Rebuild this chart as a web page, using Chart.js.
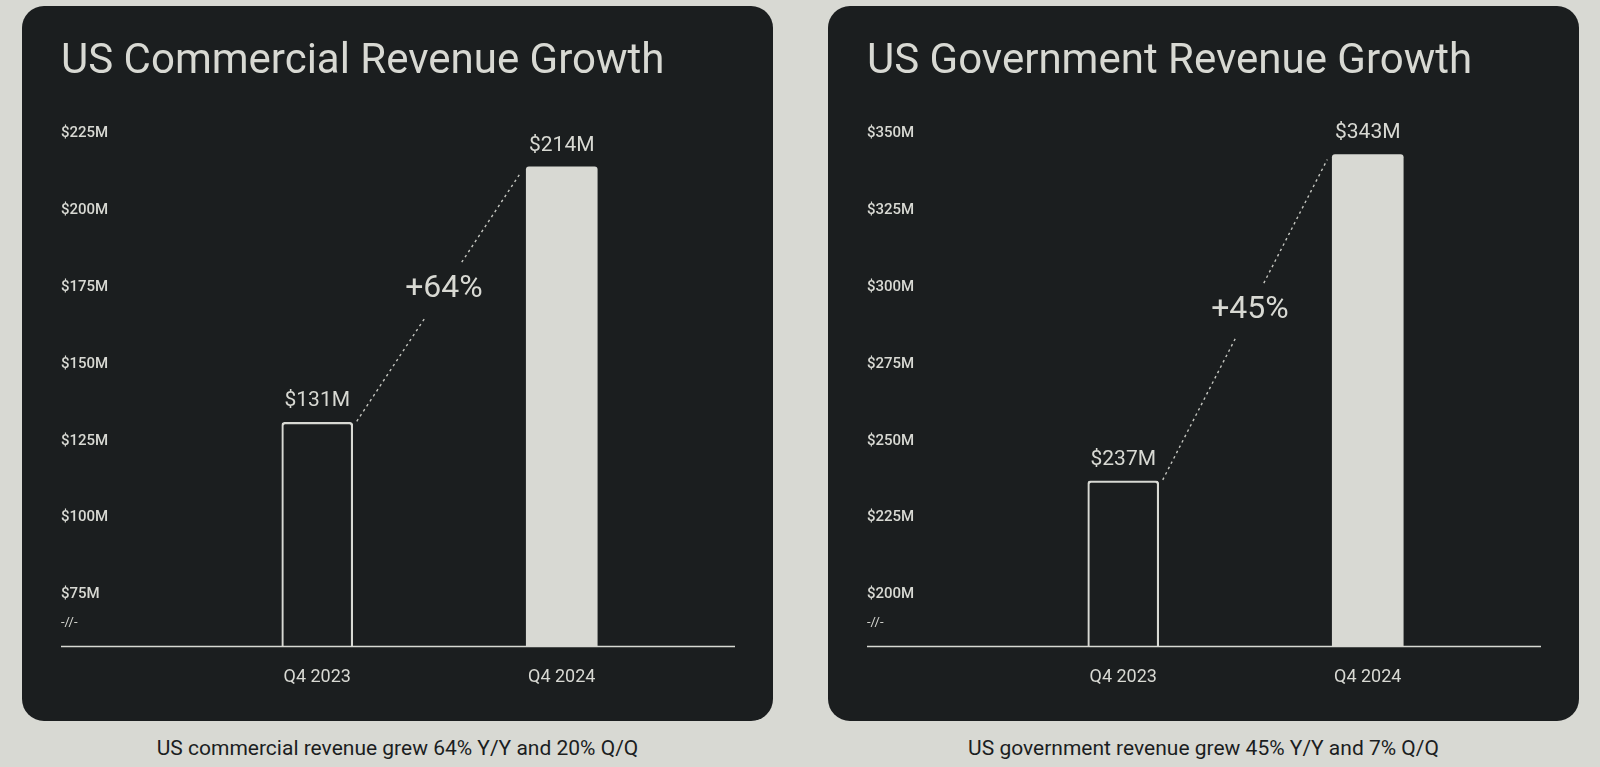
<!DOCTYPE html>
<html>
<head>
<meta charset="utf-8">
<script src="https://cdn.jsdelivr.net/npm/chart.js@4.4.1/dist/chart.umd.min.js"></script>
<style>
  html, body { margin:0; padding:0; width:1600px; height:767px; overflow:hidden; background:#d8d9d3; font-family: Roboto, 'Liberation Sans', sans-serif; }
  .panel { position:absolute; top:6px; width:751px; height:715px; background:#1b1e1f; border-radius:22px; overflow:hidden; }
  .panel canvas { display:block; }
  .caption { position:absolute; top:736px; width:751px; text-align:center; font-size:21px; line-height:24px; color:#1b1e1f; }
</style>
</head>
<body>
<div class="panel" style="left:22px"><canvas id="chartCommercial" width="751" height="715"></canvas></div>
<div class="panel" style="left:828px"><canvas id="chartGovernment" width="751" height="715"></canvas></div>
<div class="caption" style="left:22px">US commercial revenue grew 64% Y/Y and 20% Q/Q</div>
<div class="caption" style="left:828px">US government revenue grew 45% Y/Y and 7% Q/Q</div>
<script>
// ---- data ----
const categories = ['Q4 2023', 'Q4 2024'];
const commercialValues = [131, 214];
const governmentValues = [237, 343];
const commercialTicks = [75, 100, 125, 150, 175, 200, 225];
const governmentTicks = [200, 225, 250, 275, 300, 325, 350];
const commercialGrowth = '+64%';
const governmentGrowth = '+45%';
const commercialTitle = 'US Commercial Revenue Growth';
const governmentTitle = 'US Government Revenue Growth';

// ---- styling ----
const LIGHT = '#d8d9d3';
const FONT = "Roboto, 'Liberation Sans', sans-serif";

const annotate = {
  id: 'annotate',
  afterDatasetsDraw(chart, args, opts) {
    const ctx = chart.ctx;
    const area = chart.chartArea;
    const yScale = chart.scales.y;
    const meta = chart.getDatasetMeta(0);
    const values = chart.data.datasets[0].data;
    const b0 = meta.data[0], b1 = meta.data[1];
    ctx.save();
    // baseline spanning the whole plot including label column
    ctx.strokeStyle = LIGHT;
    ctx.lineWidth = 1.5;
    ctx.beginPath();
    ctx.moveTo(yScale.left, area.bottom);
    ctx.lineTo(chart.width - 38, area.bottom);
    ctx.stroke();

    // value labels
    ctx.fillStyle = LIGHT;
    ctx.textAlign = 'center';
    ctx.textBaseline = 'middle';
    ctx.font = '400 21px ' + FONT;
    meta.data.forEach((bar, i) => {
      ctx.fillText('$' + values[i] + 'M', bar.x, bar.y - 21.5);
    });

    // dashed growth connector
    const p0 = { x: b0.x + b0.width / 2 + 4, y: b0.y - 1 };
    const p1 = { x: b1.x - b1.width / 2 - 5, y: b1.y + 5 };
    const t = 0.53;
    const c = { x: p0.x + t * (p1.x - p0.x), y: p0.y + t * (p1.y - p0.y) };
    const g = 27 / (p0.y - p1.y);
    const at = (s) => ({ x: p0.x + s * (p1.x - p0.x), y: p0.y + s * (p1.y - p0.y) });
    const a1 = at(t - g), a2 = at(t + g);
    ctx.strokeStyle = 'rgba(216,217,211,0.9)';
    ctx.lineWidth = 1.4;
    ctx.setLineDash([2.5, 3.5]);
    ctx.beginPath();
    ctx.moveTo(p0.x, p0.y); ctx.lineTo(a1.x, a1.y);
    ctx.moveTo(a2.x, a2.y); ctx.lineTo(p1.x, p1.y);
    ctx.stroke();
    ctx.setLineDash([]);
    ctx.font = '400 32px ' + FONT;
    ctx.fillText(opts.growth, c.x, c.y);

    // axis break symbol
    ctx.font = '400 13px ' + FONT;
    ctx.textAlign = 'left';
    const firstTickY = yScale.getPixelForValue(opts.ticks[0]);
    ctx.fillText('-//-', yScale.left, (area.bottom + firstTickY) / 2 + 2);
    ctx.restore();
  }
};

function buildChart(id, title, values, ticks, growth) {
  const step = ticks[1] - ticks[0];
  return new Chart(document.getElementById(id), {
    type: 'bar',
    data: {
      labels: categories,
      datasets: [{
        data: values,
        backgroundColor: ['rgba(0,0,0,0)', LIGHT],
        borderColor: LIGHT,
        borderWidth: [1.5, 0],
        borderRadius: { topLeft: 3, topRight: 3, bottomLeft: 0, bottomRight: 0 },
        borderSkipped: 'start',
        barThickness: 71
      }]
    },
    options: {
      responsive: false,
      animation: false,
      devicePixelRatio: 1,
      layout: { padding: { left: 39, right: 89, top: 10, bottom: 13 } },
      plugins: {
        legend: { display: false },
        tooltip: { enabled: false },
        title: {
          display: true,
          text: title,
          align: 'start',
          color: LIGHT,
          font: { family: FONT, size: 42, weight: '400' },
          padding: { top: 21.4, bottom: 45.2 }
        },
        annotate: { growth: growth, ticks: ticks }
      },
      scales: {
        x: {
          grid: { display: false, drawTicks: false },
          border: { display: false },
          ticks: { color: LIGHT, font: { family: FONT, size: 18 }, padding: 20 }
        },
        y: {
          min: ticks[0] - step * 0.672,
          max: ticks[ticks.length - 1],
          grid: { display: false, drawTicks: false },
          border: { display: false },
          afterBuildTicks: (scale) => { scale.ticks = ticks.map(v => ({ value: v })); },
          afterFit: (scale) => { scale.width = 134; },
          ticks: {
            color: LIGHT,
            crossAlign: 'far',
            padding: 0,
            font: { family: FONT, size: 15, weight: '500' },
            callback: (v) => '$' + v + 'M'
          }
        }
      }
    },
    plugins: [annotate]
  });
}

buildChart('chartCommercial', commercialTitle, commercialValues, commercialTicks, commercialGrowth);
buildChart('chartGovernment', governmentTitle, governmentValues, governmentTicks, governmentGrowth);
</script>
</body>
</html>
